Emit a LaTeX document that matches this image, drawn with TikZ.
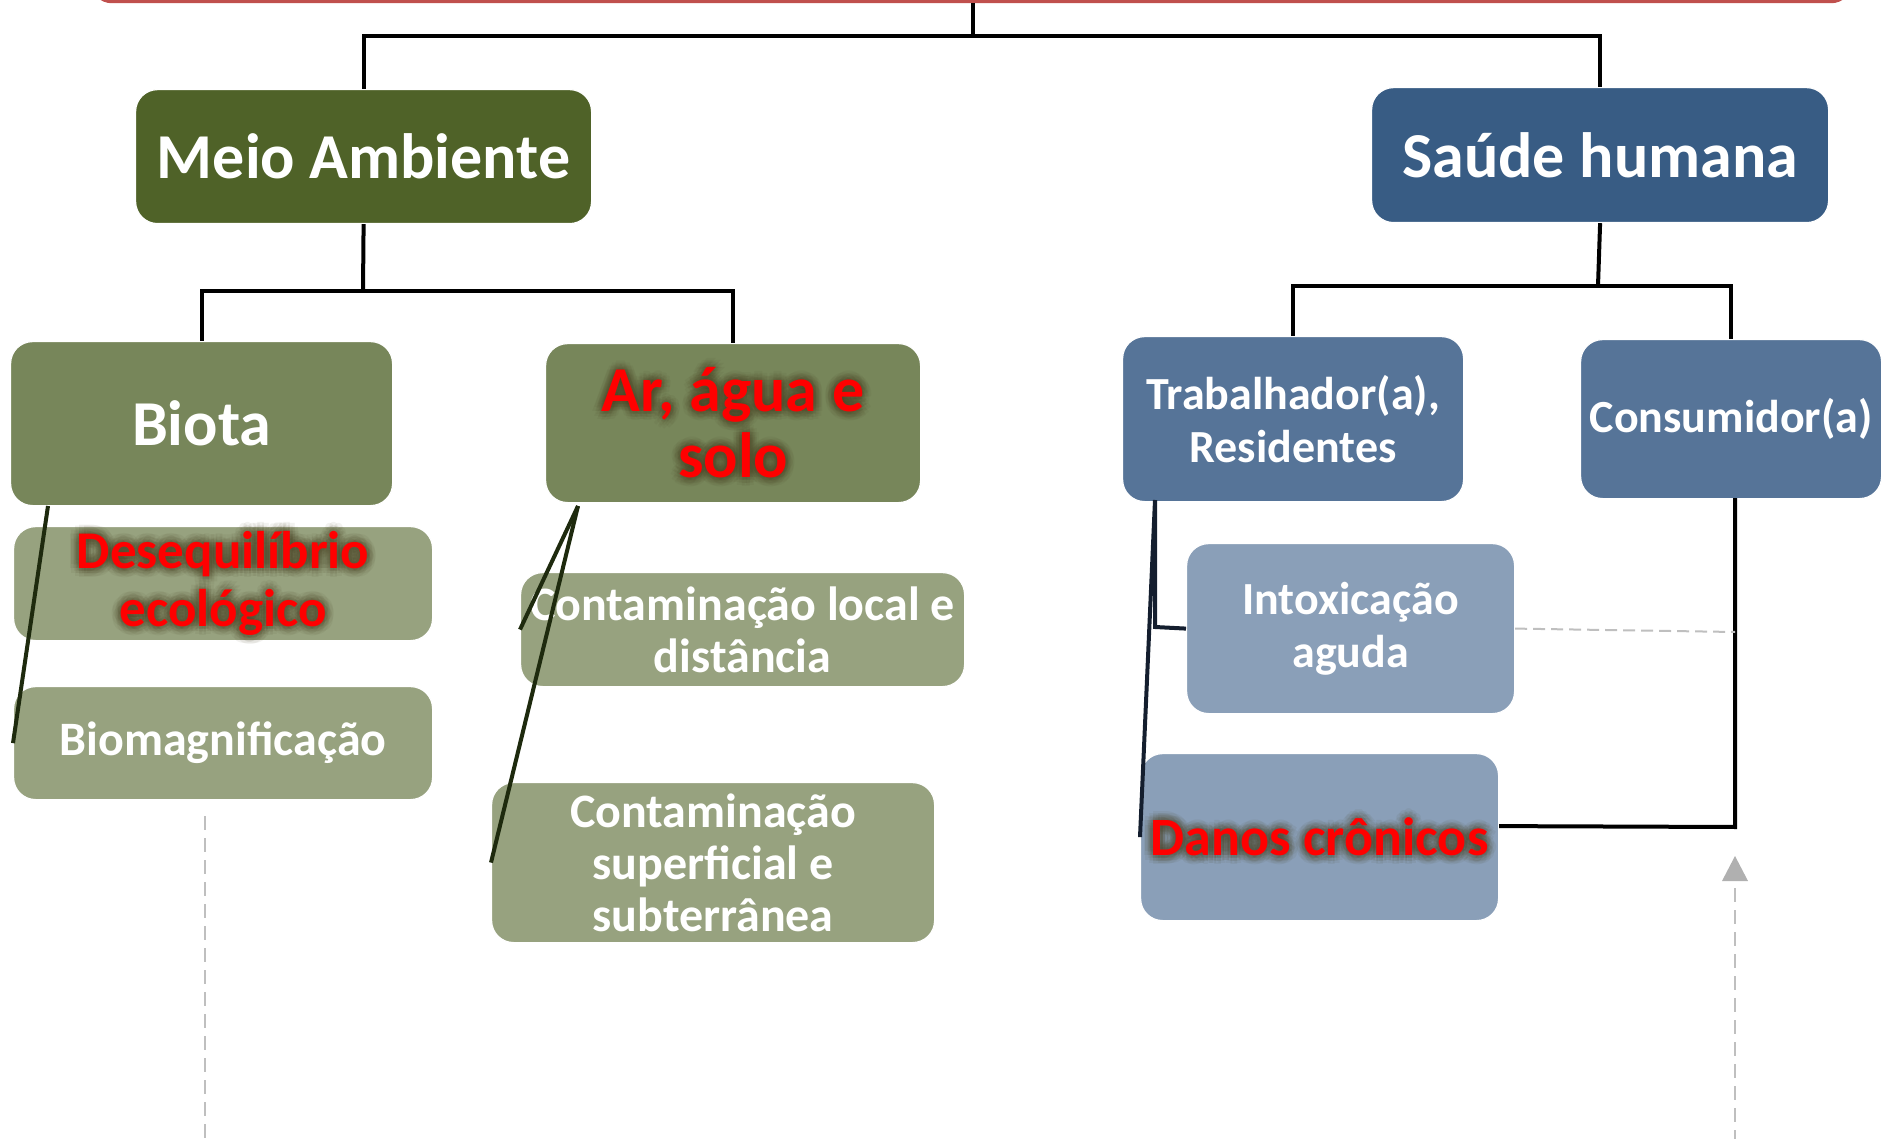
\documentclass[tikz,border=0pt]{standalone}
\usepackage{fontspec}
\setmainfont{Carlito}
\usetikzlibrary{calc}
\definecolor{meioc}{HTML}{4F6228}
\definecolor{greenb}{HTML}{77865A}
\definecolor{greenc}{HTML}{97A27F}
\definecolor{saudec}{HTML}{385C84}
\definecolor{blueb}{HTML}{567498}
\definecolor{bluec}{HTML}{8A9FB8}
\definecolor{redtop}{HTML}{C0504D}
\definecolor{glowc}{HTML}{4B4526}
\definecolor{dkolive}{HTML}{1E2A0E}
\definecolor{dknavy}{HTML}{141E2E}
\definecolor{dashg}{HTML}{BFBFBF}
\definecolor{arrg}{HTML}{B0B0B0}
\newcommand\fsA{\fontsize{64}{66}\selectfont\bfseries}
\newcommand\fsB{\fontsize{53}{58}\selectfont\bfseries}
\newcommand\fsC{\fontsize{48}{52}\selectfont\bfseries}
\newcommand\fsD{\fontsize{46}{53}\selectfont\bfseries}
\newcommand\fsE{\fontsize{54}{58}\selectfont\bfseries}
\newcommand\glowtxt[3]{%
  \foreach \r in {3,6,9}{\foreach \a in {0,30,...,330}{
    \node[align=center, font=#2, text=glowc, text opacity=0.07, inner sep=0pt] at ($(#1.center)+(\a:\r)$) {#3};}}
  \node[align=center, font=#2, text=red, inner sep=0pt] (#1t) at (#1.center) {#3};}
\tikzset{
  box/.style={rectangle, rounded corners=22pt, draw=white, line width=1.2pt, inner sep=0pt,
    text=white, align=center, anchor=north west},
  conn/.style={draw=black, line width=4pt},
  slant/.style={line width=4pt},
  gdash/.style={draw=dashg, line width=2pt, dash pattern=on 14pt off 8pt}
}
\begin{document}
\begin{tikzpicture}[x=1pt,y=-1pt]
\useasboundingbox (0,0) rectangle (1883,1139);
\begin{scope}
\clip (0,0) rectangle (1883,1139);
\draw[draw=redtop, line width=3.5pt, rounded corners=20pt] (92,-60) rectangle (1851,1.5);
\end{scope}
% coordinates
\coordinate (topc) at (973,3);
\coordinate (topj) at (973,36);
\coordinate (mj) at (363,291);
\coordinate (sj) at (1598,286);
\coordinate (arL) at (578,506);
\coordinate (biL) at (48,506);
\coordinate (trA) at (1155,500);
\coordinate (trB) at (1155,627);
\coordinate (cb) at (1735,498);
\coordinate (ce) at (1735,827);
\coordinate (dj) at (1735,632);
\coordinate (arrtip) at (1735,856);
\coordinate (arrbot) at (1735,1139);
\coordinate (ldtop) at (205,816);
\coordinate (ldbot) at (205,1139);
% boxes
\node[box, fill=meioc, minimum width=456pt, minimum height=134pt, font=\fsA] (meio) at (135,89) {Meio Ambiente};
\node[box, fill=saudec, minimum width=457pt, minimum height=135pt, font=\fsA] (saude) at (1371,87) {Saúde humana};
% connectors
\draw[conn] (topc) -- (topj) -| (meio.north);
\draw[conn] (topj) -| (saude.north);
\draw[conn] (meio.south) -- (mj);
\draw[conn] (saude.south) -- (sj);
\node[box, fill=greenb, minimum width=382pt, minimum height=164pt, font=\fsA] (biota) at (10,341) {Biota};
\node[box, fill=greenb, minimum width=375pt, minimum height=159pt] (ar) at (545,343) {};
\draw[conn] (biota.north) |- (mj) -| (ar.north);
\node[box, fill=blueb, minimum width=341pt, minimum height=165pt, font=\fsD] (trab) at (1122,336) {Trabalhador(a),\\Residentes};
\node[box, fill=blueb, minimum width=301pt, minimum height=159pt, font=\fsD] (cons) at (1580,339) {Consumidor(a)};
\draw[conn] (trab.north) |- (sj) -| (cons.north);
\glowtxt{ar}{\fsA}{Ar, água e\\solo}
% third level
\node[box, fill=greenc, minimum width=419pt, minimum height=114pt] (deseq) at (13,526) {};
\glowtxt{deseq}{\fsB}{Desequilíbrio\\ecológico}
\node[box, fill=greenc, minimum width=419pt, minimum height=113pt, font=\fsC] (biomag) at (13,686) {Biomagnificação};
\node[box, fill=greenc, minimum width=444pt, minimum height=114pt, font=\fsC] (cloc) at (520,572) {Contaminação local e\\distância};
\node[box, fill=greenc, minimum width=443pt, minimum height=160pt, font=\fsC] (csup) at (491,782) {Contaminação\\superficial e\\subterrânea};
\node[box, fill=bluec, minimum width=328pt, minimum height=170pt, font=\fsD] (intox) at (1186,543) {Intoxicação\\aguda};
\node[box, fill=bluec, minimum width=358pt, minimum height=167pt] (danos) at (1140,753) {};
\glowtxt{danos}{\fsE}{Danos crônicos}
% slanted connectors
\draw[slant, draw=dkolive] (biL) -- (biomag.west);
\draw[slant, draw=dkolive] (arL) -- (cloc.west);
\draw[slant, draw=dkolive] (arL) -- (csup.west);
\draw[slant, draw=dknavy] (trA) -- (trB) -- (intox.west);
\draw[slant, draw=dknavy] (trA) -- (danos.west);
\draw[conn] (cb) -- (ce) -- ($(danos.east)+(0,-11)$);
% dashed
\draw[gdash, dash pattern=on 12pt off 6pt] (intox.east) -- (dj);
\draw[gdash] (ldtop) -- (ldbot);
\fill[arrg] (arrtip) -- ++(-13,25) -- ++(26,0) -- cycle;
\draw[gdash] ($(arrtip)+(0,32)$) -- (arrbot);
\end{tikzpicture}
\end{document}
